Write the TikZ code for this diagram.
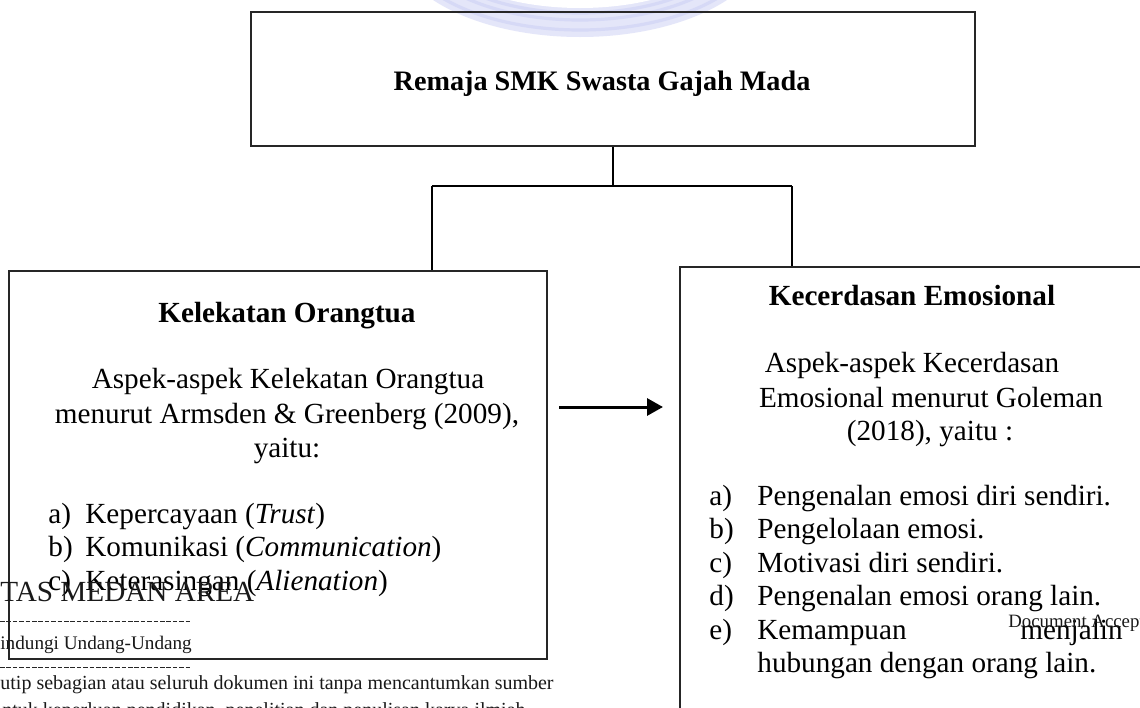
\documentclass[tikz,border=0pt]{standalone}
\usepackage{fontspec}
\setmainfont{Liberation Serif}
\newfontfamily\wmfont{Liberation Serif}
\usetikzlibrary{arrows.meta}
\definecolor{wmblue}{RGB}{228,230,249}
\definecolor{wmblue2}{RGB}{214,217,246}
\begin{document}
\begin{tikzpicture}[x=0.5pt,y=-0.5pt,
  boxline/.style={draw=black!85, line width=0.7pt, inner sep=0pt},
  conn/.style={draw=black, line width=1pt},
  arr/.style={draw=black, line width=1.5pt, -{Triangle[length=8pt,width=8.5pt]}},
  body/.style={inner sep=0pt, font=\fontsize{14.6}{17}\selectfont},
  ttl/.style={inner sep=0pt, font=\fontsize{14.6}{17}\selectfont\bfseries},
  wm/.style={inner sep=0pt, text=black!90},
  wmarc/.style={draw=wmblue2, line width=1.6pt}]
\useasboundingbox (0,0) rectangle (1140,707);
\clip (0,0) rectangle (1140,707);
\fill[white] (0,0) rectangle (1140,707);
% faint watermark logo at the top
\fill[wmblue] (580,-60) ellipse [x radius=187, y radius=97];
\fill[white] (580,-60) ellipse [x radius=150, y radius=68];
\draw[wmarc] (580,-60) ellipse [x radius=180, y radius=90];
\draw[wmarc] (580,-60) ellipse [x radius=166, y radius=80];
\draw[wmarc] (580,-60) ellipse [x radius=156, y radius=73];
% boxes
\node[boxline, minimum width=362pt, minimum height=67pt] (top) at (613,79) {};
\node[boxline, minimum width=269pt, minimum height=194pt] (lbox) at (278,465) {};
\node[boxline, minimum width=240pt, minimum height=231.5pt] (rbox) at (920,498.5) {};
% connectors
\coordinate (jl) at (432,186);
\coordinate (jr) at (792,186);
\draw[conn] (top.south) -- (top.south |- jl);
\draw[conn] (jl) -- (jr);
\draw[conn] (jl) -- (jl |- lbox.north);
\draw[conn] (jr) -- (jr |- rbox.north);
\coordinate (a1) at (559,407);
\coordinate (a2) at (663,407);
\draw[arr] (a1) -- (a2);
% top box text
\node[inner sep=0pt, font=\fontsize{14.1}{17}\selectfont\bfseries, anchor=base] (ttop) at (602,90) {Remaja SMK Swasta Gajah Mada};
% left box text
\node[ttl, anchor=base] (lt) at (287,322) {Kelekatan Orangtua};
\node[body, anchor=base] (l1) at (288,388) {Aspek-aspek Kelekatan Orangtua};
\node[body, anchor=base] (l2) at (287,423) {menurut Armsden \& Greenberg (2009),};
\node[body, anchor=base] (l3) at (287,457) {yaitu:};
\node[body, anchor=base west] (la) at (48,523) {a)};
\node[body, anchor=base west] (lat) at (85,523) {Kepercayaan (\textit{Trust})};
\node[body, anchor=base west] (lb) at (48,556.5) {b)};
\node[body, anchor=base west] (lbt) at (85,556.5) {Komunikasi (\textit{Communication})};
\node[body, anchor=base west] (lc) at (48,590) {c)};
\node[body, anchor=base west] (lct) at (85,590) {Keterasingan (\textit{Alienation})};
% right box text
\node[ttl, anchor=base] (rt) at (912,305) {Kecerdasan Emosional};
\node[body, anchor=base] (r1) at (912,372) {Aspek-aspek Kecerdasan};
\node[body, anchor=base] (r2) at (931,407) {Emosional menurut Goleman};
\node[body, anchor=base] (r3) at (930,440) {(2018), yaitu :};
\node[body, anchor=base west] (ra) at (709,505) {a)};
\node[body, anchor=base west] (rat) at (757,505) {Pengenalan emosi diri sendiri.};
\node[body, anchor=base west] (rb) at (709,538.5) {b)};
\node[body, anchor=base west] (rbt) at (757,538.5) {Pengelolaan emosi.};
\node[body, anchor=base west] (rc) at (709,572) {c)};
\node[body, anchor=base west] (rct) at (757,572) {Motivasi diri sendiri.};
\node[body, anchor=base west] (rd) at (709,605.5) {d)};
\node[body, anchor=base west] (rdt) at (757,605.5) {Pengenalan emosi orang lain.};
\node[body, anchor=base west] (re) at (709,639) {e)};
\node[body, anchor=base west] (ret) at (757,639) {Kemampuan};
\node[body, anchor=base east] (ret2) at (1123,639) {menjalin};
\node[body, anchor=base west] (rf) at (757,672.5) {hubungan dengan orang lain.};
% watermark footer text
\node[wm, anchor=base west, font=\wmfont\fontsize{9.4}{11}\selectfont] (doc) at (1008,627) {Document Accepted};
\node[wm, anchor=base west, font=\wmfont\fontsize{14.6}{17}\selectfont] (w1) at (0,601) {TAS MEDAN AREA};
\draw[black!85, line width=0.5pt, dash pattern=on 2.3pt off 0.9pt] (0,621) -- (191,621);
\node[wm, anchor=base west, font=\wmfont\fontsize{9.6}{12}\selectfont] (w2) at (0,649) {indungi Undang-Undang};
\draw[black!85, line width=0.5pt, dash pattern=on 2.3pt off 0.9pt] (0,667) -- (191,667);
\node[wm, anchor=base west, font=\wmfont\fontsize{10}{12}\selectfont] (w3) at (0,689) {utip sebagian atau seluruh dokumen ini tanpa mencantumkan sumber};
\node[wm, anchor=base west, font=\wmfont\fontsize{10}{12}\selectfont] (w4) at (2,716) {ntuk keperluan pendidikan, penelitian dan penulisan karya ilmiah};
\end{tikzpicture}
\end{document}
